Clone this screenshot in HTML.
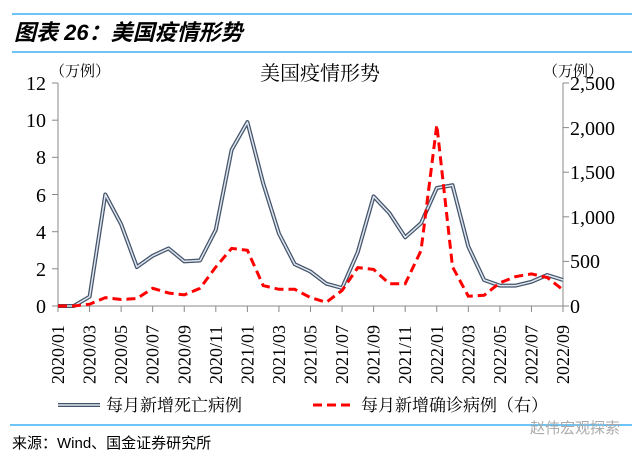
<!DOCTYPE html>
<html><head><meta charset="utf-8"><style>
body{margin:0;background:#fff;width:640px;height:459px;overflow:hidden}
svg{display:block}
svg text{font-family:"Liberation Serif","Noto Serif CJK SC",serif}
svg text.s{font-family:"Liberation Sans","Noto Sans CJK SC",sans-serif}
svg text.c{font-family:"Noto Serif CJK SC",serif}
</style></head><body>
<svg width="640" height="459" xmlns="http://www.w3.org/2000/svg">
<line x1="12" y1="14" x2="632" y2="14" stroke="#3fb0f0" stroke-width="1.5"/>
<line x1="12" y1="52" x2="632" y2="52" stroke="#3fb0f0" stroke-width="1.5"/>
<line x1="10" y1="425" x2="632" y2="425" stroke="#3fb0f0" stroke-width="1.5"/>
<text class="s" x="14" y="40" font-size="22" font-weight="bold" font-style="italic">图表 26：美国疫情形势</text>
<text class="c" x="320" y="80" font-size="20" text-anchor="middle">美国疫情形势</text>
<text class="c" x="50" y="76" font-size="15">（万例）</text>
<text class="c" x="543" y="76" font-size="15">（万例）</text>
<g font-size="20" text-anchor="end">
<text x="46" y="313">0</text><text x="46" y="276">2</text><text x="46" y="239">4</text><text x="46" y="202">6</text><text x="46" y="164">8</text><text x="46" y="127">10</text><text x="46" y="90">12</text>
</g>
<g font-size="20">
<text x="570" y="313">0</text><text x="570" y="268">500</text><text x="570" y="224">1,000</text><text x="570" y="179">1,500</text><text x="570" y="135">2,000</text><text x="570" y="90">2,500</text>
</g>
<g stroke="#888" stroke-width="1">
<line x1="58" y1="83" x2="58" y2="306"/><line x1="52" y1="83" x2="58" y2="83"/>
<line x1="52" y1="120.2" x2="58" y2="120.2"/><line x1="52" y1="157.3" x2="58" y2="157.3"/>
<line x1="52" y1="194.5" x2="58" y2="194.5"/><line x1="52" y1="231.7" x2="58" y2="231.7"/>
<line x1="52" y1="268.8" x2="58" y2="268.8"/><line x1="52" y1="306" x2="58" y2="306"/>
<line x1="563" y1="83" x2="563" y2="306"/>
<line x1="563" y1="83" x2="569" y2="83"/><line x1="563" y1="127.6" x2="569" y2="127.6"/>
<line x1="563" y1="172.2" x2="569" y2="172.2"/><line x1="563" y1="216.8" x2="569" y2="216.8"/>
<line x1="563" y1="261.4" x2="569" y2="261.4"/><line x1="563" y1="306" x2="569" y2="306"/>
<line x1="58" y1="306" x2="563" y2="306"/>
</g>
<g id="ticks" stroke="#888"></g>
<g id="xl" font-size="18"></g>
<polyline id="blueA" fill="none" stroke="#44546a" stroke-width="4" stroke-linejoin="round"/>
<polyline id="blueB" fill="none" stroke="#dfe6f0" stroke-width="1.5" stroke-linejoin="round"/>
<polyline id="red" fill="none" stroke="#ff0000" stroke-width="3" stroke-dasharray="9,5"/>
<line x1="58" y1="405" x2="100" y2="405" stroke="#44546a" stroke-width="4"/>
<line x1="58" y1="405" x2="100" y2="405" stroke="#dfe6f0" stroke-width="1.5"/>
<text class="c" x="106" y="411" font-size="17">每月新增死亡病例</text>
<line x1="313" y1="405" x2="355" y2="405" stroke="#ff0000" stroke-width="3" stroke-dasharray="9,5"/>
<text class="c" x="361" y="411" font-size="17">每月新增确诊病例（右）</text>
<text class="s" x="530" y="433" font-size="15" fill="#aaa">赵伟宏观探索</text>
<text class="s" x="12" y="448" font-size="15">来源：Wind、国金证券研究所</text>
</svg>
<script>
var b=[0,0,0.5,6.0,4.4,2.1,2.7,3.1,2.4,2.45,4.1,8.4,9.9,6.6,3.9,2.25,1.85,1.2,0.97,2.9,5.9,5.0,3.7,4.45,6.35,6.5,3.2,1.4,1.1,1.1,1.3,1.67,1.4];
var r=[0,0,20,94,73,83,198,146,125,198,437,646,625,229,187,187,94,42,175,430,410,250,250,620,2030,440,110,120,260,330,360,320,180];
function X(i){return 58+i*505/32}
var pa=b.map(function(v,i){return X(i).toFixed(1)+','+(306-v*18.58).toFixed(1)}).join(' ');
document.getElementById('blueA').setAttribute('points',pa);
document.getElementById('blueB').setAttribute('points',pa);
document.getElementById('red').setAttribute('points',r.map(function(v,i){return X(i).toFixed(1)+','+(306-v*0.0892).toFixed(1)}).join(' '));
var ns='http://www.w3.org/2000/svg',t=document.getElementById('ticks'),xl=document.getElementById('xl');
for(var i=0;i<33;i+=2){var x=X(i);var l=document.createElementNS(ns,'line');l.setAttribute('x1',x);l.setAttribute('x2',x);l.setAttribute('y1',306);l.setAttribute('y2',312);t.appendChild(l);
var y=2020+Math.floor(i/12),m=i%12+1;var tx=document.createElementNS(ns,'text');tx.setAttribute('transform','translate('+(x+6)+',384) rotate(-90)');tx.textContent=y+'/'+(m<10?'0':'')+m;xl.appendChild(tx);}
</script>
</body></html>
